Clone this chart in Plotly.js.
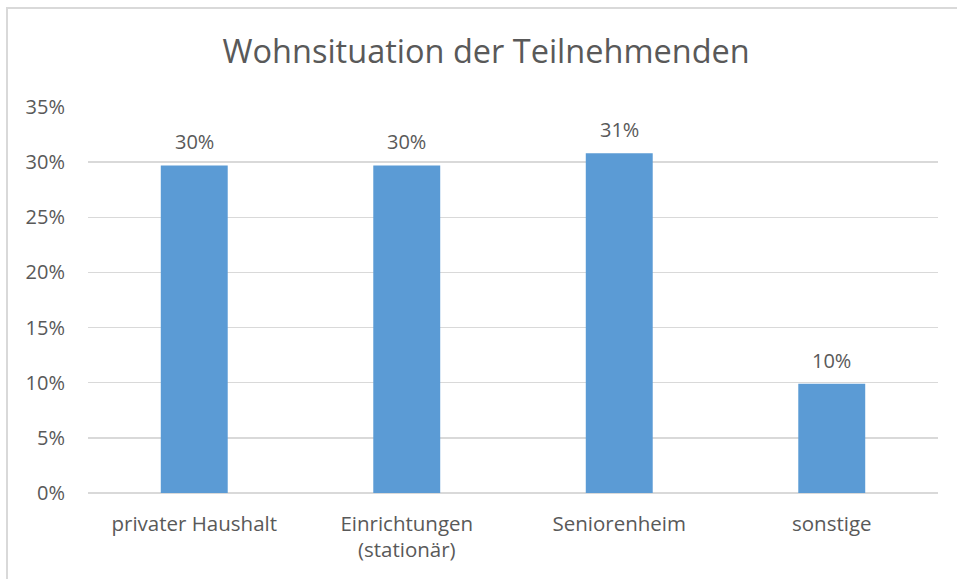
<!DOCTYPE html>
<html><head><meta charset="utf-8">
<script src="https://cdn.plot.ly/plotly-3.0.1.min.js"></script>
<style>
html,body{margin:0;padding:0;overflow:hidden;background:#fff;}
#chart{width:957px;height:579px;}
#frame{position:absolute;left:6px;top:7px;width:1000px;height:700px;border:2px solid #d9d9d9;pointer-events:none;}
</style></head>
<body>
<div id="chart"></div>
<div id="frame"></div>
<script>
const categories = ["privater Haushalt", "Einrichtungen<br>(stationär)", "Seniorenheim", "sonstige"];
const values = [0.297, 0.297, 0.308, 0.099];
const labels = ["30%", "30%", "31%", "10%"];
const yTicks = [0, 0.05, 0.10, 0.15, 0.20, 0.25, 0.30, 0.35];
const yTickText = ["0%", "5%", "10%", "15%", "20%", "25%", "30%", "35%"];

const font = "'Open Sans', sans-serif";
const grey = "#595959";

const trace = {
  type: "bar",
  x: categories,
  y: values,
  marker: {color: "#5b9bd5"},
  hoverinfo: "skip"
};

const annotations = categories.map((c, i) => ({
  x: c, y: values[i], xref: "x", yref: "y",
  text: labels[i], showarrow: false,
  yanchor: "bottom", yshift: 8,
  font: {family: font, size: 20, color: grey}
}));

const layout = {
  width: 957, height: 579,
  margin: {l: 88, r: 19, t: 107, b: 86},
  paper_bgcolor: "#ffffff", plot_bgcolor: "#ffffff",
  title: {text: "Wohnsituation der Teilnehmenden", x: 0.508, xanchor: "center", y: 0.91, yanchor: "middle",
          font: {family: font, size: 32.5, color: grey}},
  bargap: 0.685,
  showlegend: false,
  xaxis: {
    type: "category",
    showgrid: false, zeroline: false, showline: false,
    ticks: "", ticklabelstandoff: 16,
    tickfont: {family: font, size: 20.5, color: grey}
  },
  yaxis: {
    range: [0, 0.35],
    tickvals: yTicks, ticktext: yTickText,
    showgrid: true, gridcolor: "#d9d9d9", gridwidth: 1.5,
    zeroline: true, zerolinecolor: "#d9d9d9", zerolinewidth: 1.5,
    showline: false, ticks: "", ticklabelstandoff: 22,
    tickfont: {family: font, size: 20, color: grey}
  },
  annotations: annotations
};

Plotly.newPlot("chart", [trace], layout, {displayModeBar: false, staticPlot: true});
</script>
</body></html>
